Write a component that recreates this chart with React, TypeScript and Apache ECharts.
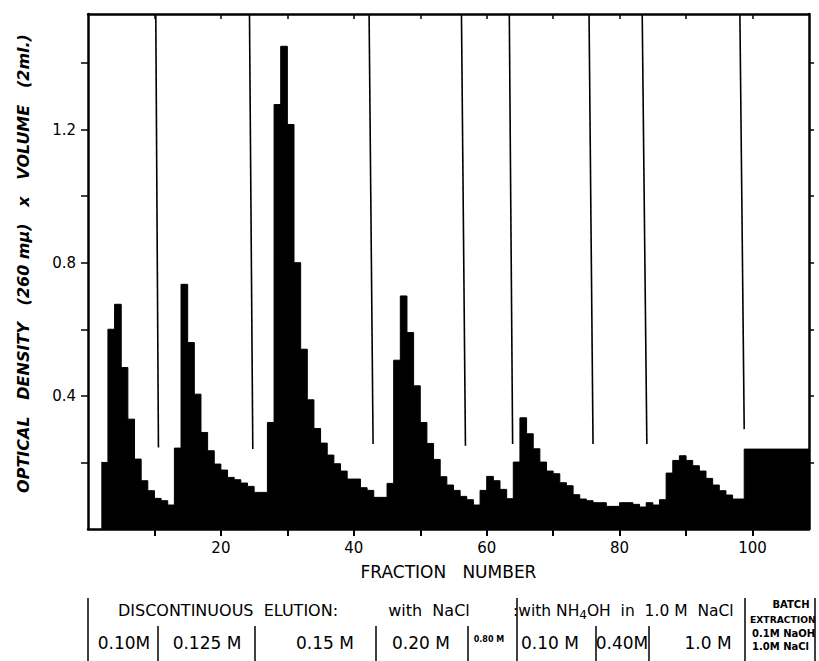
import React, { useEffect, useRef } from "react";
import * as echarts from "echarts";

// ---- data ----
// left edge of each fraction bin (fraction number) and its value
const binStarts = [
  2, 3, 4, 5, 6, 7, 8, 9, 10, 11, 12, 13, 14, 15, 16, 17, 18, 19, 20, 21, 22, 23, 24, 25, 26,
  27, 28, 29, 30, 31, 32, 33, 34, 35, 36, 37, 38, 39, 40, 41, 42, 43, 44, 45, 46, 47, 48, 49,
  50, 51, 52, 53, 54, 55, 56, 57, 58, 59, 60, 61, 62, 63, 64, 65, 66, 67, 68, 69, 70, 71, 72,
  73, 74, 75, 76, 77, 78, 79, 80, 81, 82, 83, 84, 85, 86, 87, 88, 89, 90, 91, 92, 93, 94, 95,
  96, 97, 98.75,
];
const binValues = [
  0.2, 0.6, 0.675, 0.485, 0.33, 0.21, 0.145, 0.115, 0.092, 0.085, 0.072, 0.243, 0.735, 0.56,
  0.405, 0.29, 0.235, 0.195, 0.177, 0.155, 0.148, 0.138, 0.128, 0.11, 0.11,
  0.32, 1.275, 1.45, 1.215, 0.8, 0.54, 0.388, 0.302, 0.258, 0.222, 0.196, 0.174, 0.15, 0.15,
  0.124, 0.116, 0.095, 0.095, 0.137, 0.507, 0.7, 0.59, 0.43,
  0.32, 0.257, 0.209, 0.157, 0.132, 0.116, 0.098, 0.088, 0.072, 0.116, 0.158, 0.145, 0.119,
  0.091, 0.201, 0.334, 0.286, 0.241, 0.201, 0.174, 0.166, 0.139, 0.13,
  0.103, 0.09, 0.085, 0.079, 0.079, 0.068, 0.068, 0.079, 0.079, 0.074, 0.066, 0.079, 0.072,
  0.088, 0.168, 0.206, 0.22, 0.206, 0.19, 0.174, 0.152, 0.132, 0.115,
  0.102, 0.09, 0.24,
];
const lastEdge = 108.5;

// stage divider lines (fraction number at top / bottom, value where the line stops)
const dividerTopX = [10.2, 24.3, 42.3, 56.2, 63.4, 75.4, 83.4, 98.1];
const dividerBottomX = [10.6, 24.8, 42.9, 56.8, 63.9, 76.0, 84.1, 98.75];
const dividerEndY = [0.245, 0.24, 0.255, 0.25, 0.255, 0.255, 0.255, 0.3];

const xTicks = [10, 20, 30, 40, 50, 60, 70, 80, 90, 100];
const xLabels = [20, 40, 60, 80, 100];
const yTicks = [0.2, 0.4, 0.6, 0.8, 1.0, 1.2, 1.4];
const yLabels = [0.4, 0.8, 1.2];
const xMin = 0;
const yMin = 0;
const yMax = 1.547;

// legend table below the chart
const row1Texts = ["DISCONTINUOUS  ELUTION:", "with  NaCl"];
const row2Texts = ["0.10M", "0.125 M", "0.15 M", "0.20 M", "0.10 M", "0.40M", "1.0 M"];

// ---- layout (pixels) ----
const FONT = "DejaVu Sans";
const row1X = [228, 429];
const row2X = [124, 207, 325, 421, 550, 622, 708];
const ROW1_Y = 610;
const ROW2_Y = 643;
const fullSeps = [88, 517, 745, 815];
const rowSeps = [158, 255, 376, 468, 596, 649];

export default function App() {
  const ref = useRef<HTMLDivElement>(null);

  useEffect(() => {
    if (!ref.current) return;
    const chart = echarts.init(ref.current, null, { renderer: "svg" });

    const stepData: number[][] = binStarts.map((x, i) => [x, binValues[i]]);
    stepData.push([lastEdge, binValues[binValues.length - 1]]);

    const dividerSeries = dividerTopX.map((tx, i) => ({
      type: "line",
      data: [
        [tx, yMax],
        [dividerBottomX[i], dividerEndY[i]],
      ],
      symbol: "none",
      silent: true,
      z: 3,
      lineStyle: { color: "#000", width: 1.6 },
    }));

    const axisLine = { onZero: false, lineStyle: { color: "#000", width: 2.5 } };
    const labelStyle = { color: "#000", fontSize: 15, fontFamily: FONT };

    const graphics: any[] = [];
    row1Texts.forEach((t, i) => {
      graphics.push({
        type: "text",
        x: row1X[i],
        y: ROW1_Y,
        style: {
          text: t,
          fill: "#000",
          font: `16px "${FONT}"`,
          align: "center",
          verticalAlign: "middle",
          textAlign: "center",
          textVerticalAlign: "middle",
        },
      });
    });
    graphics.push({
      type: "text",
      x: 513,
      y: ROW1_Y + 1,
      style: {
        text: "{a|:with NH}{s|4}{a|OH  in  1.0 M  NaCl}",
        rich: {
          a: { fontSize: 15.5, fontFamily: FONT, fill: "#000", lineHeight: 19 },
          s: { fontSize: 12, fontFamily: FONT, fill: "#000", lineHeight: 8, verticalAlign: "bottom" },
        },
        align: "left",
        verticalAlign: "middle",
        textAlign: "left",
        textVerticalAlign: "middle",
      },
    });
    row2Texts.forEach((t, i) => {
      graphics.push({
        type: "text",
        x: row2X[i],
        y: ROW2_Y,
        style: {
          text: t,
          fill: "#000",
          font: `17px "${FONT}"`,
          align: "center",
          verticalAlign: "middle",
          textAlign: "center",
          textVerticalAlign: "middle",
        },
      });
    });
    const smallTexts = [
      { t: "0.80 M", x: 489, y: 639, s: 8, a: "center" },
      { t: "BATCH", x: 791, y: 604, s: 10, a: "center" },
      { t: "EXTRACTION", x: 750, y: 619, s: 9.2, a: "left" },
      { t: "0.1M NaOH", x: 752, y: 633, s: 10, a: "left" },
      { t: "1.0M NaCl", x: 752, y: 646, s: 10, a: "left" },
    ];
    smallTexts.forEach((o) => {
      graphics.push({
        type: "text",
        x: o.x,
        y: o.y,
        style: {
          text: o.t,
          fill: "#000",
          font: `bold ${o.s}px "${FONT}"`,
          align: o.a,
          verticalAlign: "middle",
          textAlign: o.a,
          textVerticalAlign: "middle",
        },
      });
    });
    fullSeps.forEach((x) => {
      graphics.push({
        type: "line",
        shape: { x1: x, y1: 598, x2: x, y2: 661 },
        style: { stroke: "#000", lineWidth: 1.5 },
      });
    });
    rowSeps.forEach((x) => {
      graphics.push({
        type: "line",
        shape: { x1: x, y1: 626, x2: x, y2: 661 },
        style: { stroke: "#000", lineWidth: 1.5 },
      });
    });

    chart.setOption({
      animation: false,
      backgroundColor: "#fff",
      grid: { left: 88, right: 10, top: 14, bottom: 132, containLabel: false },
      xAxis: [
        {
          type: "value",
          position: "bottom",
          min: xMin,
          max: lastEdge,
          interval: 10,
          axisLine,
          splitLine: { show: false },
          axisTick: {
            customValues: xTicks,
            length: 7,
            lineStyle: { color: "#000", width: 2 },
          },
          axisLabel: {
            ...labelStyle,
            customValues: xLabels,
            margin: 11,
            formatter: (v: number) => (xLabels.includes(v) ? String(v) : ""),
          },
          name: "FRACTION   NUMBER",
          nameLocation: "middle",
          nameGap: 34,
          nameTextStyle: { color: "#000", fontSize: 17, fontFamily: FONT },
        },
        {
          type: "value",
          position: "top",
          min: xMin,
          max: lastEdge,
          interval: 10,
          axisLine,
          splitLine: { show: false },
          axisTick: {
            customValues: xTicks,
            inside: true,
            length: 5,
            lineStyle: { color: "#000", width: 1.5 },
          },
          axisLabel: { show: false },
        },
      ],
      yAxis: [
        {
          type: "value",
          position: "left",
          min: yMin,
          max: yMax,
          interval: 0.2,
          axisLine,
          splitLine: { show: false },
          axisTick: {
            customValues: yTicks,
            length: 7,
            lineStyle: { color: "#000", width: 1.5 },
          },
          axisLabel: {
            ...labelStyle,
            customValues: yLabels,
            margin: 12,
            formatter: (v: number) =>
              yLabels.some((l) => Math.abs(l - v) < 1e-6) ? v.toFixed(1) : "",
          },
          name: "OPTICAL   DENSITY   (260 mμ)   x   VOLUME   (2ml.)",
          nameLocation: "middle",
          nameGap: 57,
          nameTextStyle: {
            color: "#000",
            fontSize: 16,
            fontFamily: FONT,
            fontStyle: "italic",
            fontWeight: "bold",
            padding: [0, 0, 0, 16],
          },
        },
        {
          type: "value",
          position: "right",
          min: yMin,
          max: yMax,
          interval: 0.2,
          axisLine,
          splitLine: { show: false },
          axisTick: {
            customValues: yTicks,
            length: 5,
            lineStyle: { color: "#000", width: 1.5 },
          },
          axisLabel: { show: false },
        },
      ],
      series: [
        {
          type: "line",
          step: "end",
          data: stepData,
          symbol: "none",
          silent: true,
          z: 2,
          lineStyle: { color: "#000", width: 1 },
          areaStyle: { color: "#000", opacity: 1 },
        },
        ...dividerSeries,
      ],
      graphic: graphics,
    });

    return () => chart.dispose();
  }, []);

  return (
    <div
      ref={ref}
      style={{ position: "fixed", left: 0, top: 0, width: 819, height: 661, background: "#fff" }}
    />
  );
}
